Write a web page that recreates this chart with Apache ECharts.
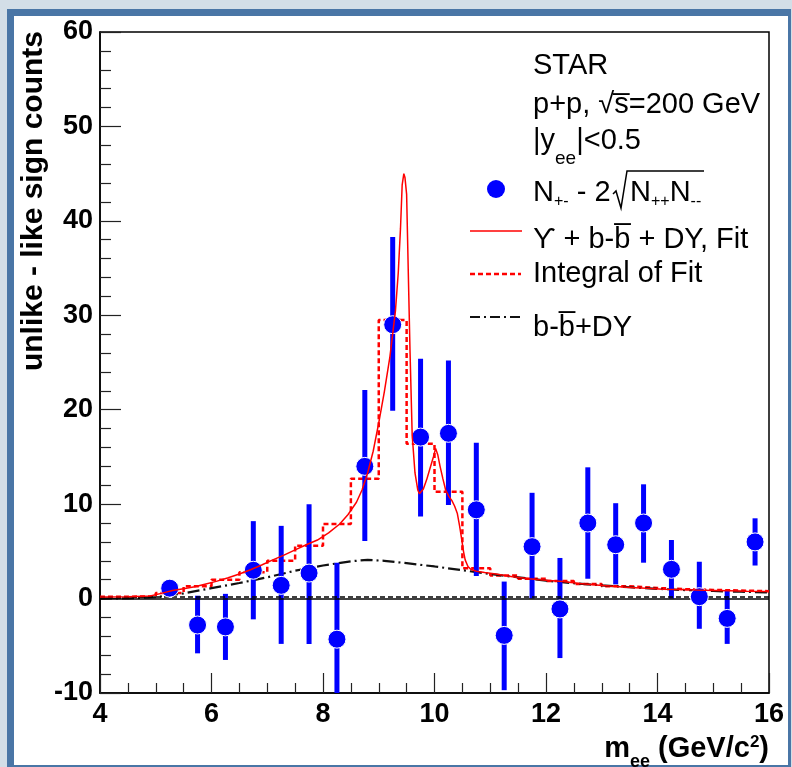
<!DOCTYPE html>
<html>
<head>
<meta charset="utf-8">
<script src="https://cdn.jsdelivr.net/npm/echarts@6/dist/echarts.min.js"></script>
<style>
  html, body { margin: 0; padding: 0; }
  #chart { width: 792px; height: 767px; }
</style>
</head>
<body>
<div id="chart"></div>
<script>
// data points: N+- - 2 sqrt(N++ N--)
const massBins = [5.25, 5.75, 6.25, 6.75, 7.25, 7.75, 8.25, 8.75, 9.25, 9.75, 10.25,
  10.75, 11.25, 11.75, 12.25, 12.75, 13.25, 13.75, 14.25, 14.75, 15.25, 15.75]
const counts = [1.1, -2.8, -3.0, 3.0, 1.4, 2.7, -4.3, 14.0, 29.0, 17.1, 17.5,
  9.4, -3.9, 5.5, -1.1, 8.0, 5.7, 8.0, 3.1, 0.2, -2.1, 6.0]
const errLow = [0.3, -5.8, -6.5, -2.2, -4.8, -4.8, -12.5, 6.1, 19.9, 8.7, 9.9,
  2.4, -9.7, 0.0, -6.3, 2.1, 1.5, 3.8, 0.0, -3.2, -4.8, 3.5]
const errHigh = [1.9, 0.3, 0.5, 8.2, 7.7, 10.0, 3.8, 22.1, 38.3, 25.4, 25.2,
  16.5, 1.8, 11.2, 4.3, 13.9, 10.1, 12.1, 6.2, 3.9, 0.8, 8.5]

// Upsilon + b-bbar + DY fit
const fitMass = [4.0, 4.5, 4.9, 5.1, 5.3, 5.5, 5.7, 5.9, 6.1, 6.3, 6.5, 6.7, 6.9, 7.1, 7.3,
  7.5, 7.7, 7.9, 8.1, 8.3, 8.45, 8.6, 8.7, 8.8, 8.9, 9.0, 9.1, 9.2, 9.3, 9.35, 9.39, 9.42,
  9.45, 9.47, 9.5, 9.53, 9.56, 9.6, 9.65, 9.7, 9.73, 9.8, 9.86, 9.92, 9.98, 10.02, 10.06,
  10.1, 10.15, 10.2, 10.26, 10.31, 10.36, 10.41, 10.45, 10.49, 10.52, 10.55, 10.6, 10.65,
  10.75, 10.9, 11.1, 11.4, 11.7, 12.0, 12.3, 12.6, 12.9, 13.2, 13.5, 13.8, 14.1, 14.4,
  14.7, 15.0, 15.3, 15.6, 16.0]
const fitValue = [0.17, 0.2, 0.27, 0.55, 0.85, 1.05, 1.25, 1.55, 1.85, 2.2, 2.6, 3.05, 3.55,
  4.1, 4.6, 5.15, 5.7, 6.2, 6.95, 7.9, 8.9, 10.2, 11.5, 13.3, 15.6, 18.6, 21.9, 25.6, 30.5,
  34.5, 39.2, 43.8, 45.0, 44.6, 42.8, 34.5, 26.4, 17.3, 13.3, 11.5, 11.1, 11.6, 12.6, 13.8,
  15.0, 15.9, 15.2, 14.0, 12.7, 11.5, 10.8, 10.4, 9.8, 9.0, 7.7, 6.2, 5.0, 4.1, 3.4, 3.1,
  2.9, 2.75, 2.6, 2.3, 2.1, 1.95, 1.8, 1.6, 1.45, 1.3, 1.18, 1.08, 1.0, 0.95, 0.9, 0.86,
  0.82, 0.78, 0.75]

// integral of fit, per 0.5 GeV bin (low edges)
const histEdges = [4.0, 4.5, 5.0, 5.5, 6.0, 6.5, 7.0, 7.5, 8.0, 8.5, 9.0, 9.5, 10.0, 10.5,
  11.0, 11.5, 12.0, 12.5, 13.0, 13.5, 14.0, 14.5, 15.0, 15.5, 16.0]
const histValue = [0.2, 0.22, 0.6, 1.3, 2.0, 2.8, 4.0, 5.6, 7.9, 12.7, 29.5, 16.4, 11.3,
  3.2, 2.45, 2.1, 1.85, 1.55, 1.3, 1.12, 1.0, 0.92, 0.85, 0.78, 0.78]

// b-bbar + DY component
const bkgMass = [4.0, 4.5, 5.0, 5.5, 6.0, 6.5, 7.0, 7.5, 8.0, 8.5, 8.8, 9.1, 9.5, 10.0,
  10.5, 11.0, 11.5, 12.0, 12.5, 13.0, 13.5, 14.0, 14.5, 15.0, 15.5, 16.0]
const bkgValue = [0.0, 0.03, 0.15, 0.55, 1.1, 1.65, 2.25, 2.95, 3.5, 3.95, 4.1, 4.0, 3.75,
  3.4, 3.0, 2.6, 2.25, 1.9, 1.62, 1.4, 1.2, 1.03, 0.9, 0.8, 0.72, 0.65]

const xTicks = [4, 16, 2]
const yTicks = [-10, 60, 10]

const zip = (a, b) => a.map((v, i) => [v, b[i]])

const myChart = echarts.init(document.getElementById('chart'))

const font = 'Liberation Sans, Arial, sans-serif'
const legendText = { fontFamily: font, fontSize: 29, fill: '#000' }
const subText = {
  verticalAlign: 'middle', fontFamily: font, fontSize: 29, lineHeight: 60, fill: '#000',
  rich: { s: { fontFamily: font, fontSize: 16, padding: [18, 0, 0, 0] } }
}

function renderErr(params, api) {
  const x = api.value(0)
  const lo = api.coord([x, api.value(1)])
  const hi = api.coord([x, api.value(2)])
  const rect = echarts.graphic.clipRectByRect(
    { x: lo[0] - 2.5, y: hi[1], width: 5, height: lo[1] - hi[1] },
    { x: params.coordSys.x, y: params.coordSys.y, width: params.coordSys.width, height: params.coordSys.height }
  )
  return rect && { type: 'rect', shape: rect, style: { fill: '#0000ff' } }
}

const option = {
  backgroundColor: '#d3dee7',
  animation: false,
  grid: {
    left: 100, right: 23, top: 32, bottom: 74,
    show: true, backgroundColor: '#fff', borderColor: '#000', borderWidth: 1.5
  },
  xAxis: {
    type: 'value', min: xTicks[0], max: xTicks[1], interval: xTicks[2],
    axisLine: { onZero: false, lineStyle: { color: '#000', width: 1.5 } },
    axisTick: { inside: true, length: 20, lineStyle: { color: '#222', width: 1.2 } },
    minorTick: { show: true, splitNumber: 4, length: 10, lineStyle: { color: '#222', width: 1.2 } },
    splitLine: { show: false },
    axisLabel: { margin: 8, color: '#000', fontSize: 27, fontWeight: 'bold', fontFamily: font }
  },
  yAxis: {
    type: 'value', min: yTicks[0], max: yTicks[1], interval: yTicks[2],
    axisLine: { onZero: false, lineStyle: { color: '#000', width: 1.5 } },
    axisTick: { inside: true, length: 21, lineStyle: { color: '#222', width: 1.2 } },
    minorTick: { show: true, splitNumber: 5, length: 11, lineStyle: { color: '#222', width: 1.2 } },
    splitLine: { show: false },
    axisLabel: { margin: 7, color: '#000', fontSize: 27, fontWeight: 'bold', fontFamily: font }
  },
  series: [
    {
      // integral of fit (step histogram)
      type: 'line', step: 'end', showSymbol: false, z: 3,
      data: zip(histEdges, histValue),
      lineStyle: { color: '#ff0000', width: 2.5, type: [5, 3] },
      markLine: {
        silent: true, symbol: 'none', label: { show: false },
        data: [
          { yAxis: 0, lineStyle: { color: '#000', width: 1.5, type: 'solid' } },
          { yAxis: 0.18, lineStyle: { color: '#000', width: 1.5, type: [5, 3] } }
        ]
      }
    },
    {
      type: 'line', showSymbol: false, z: 3,
      data: zip(bkgMass, bkgValue),
      lineStyle: { color: '#111', width: 2.2, type: [12, 4, 2, 4] }
    },
    {
      type: 'custom', z: 4,
      renderItem: renderErr,
      data: massBins.map((m, i) => [m, errLow[i], errHigh[i]])
    },
    {
      type: 'scatter', z: 5, symbolSize: 18,
      data: zip(massBins, counts),
      itemStyle: { color: '#0000ff', borderColor: '#fff', borderWidth: 1, opacity: 1 }
    },
    {
      type: 'line', showSymbol: false, z: 6,
      data: zip(fitMass, fitValue),
      lineStyle: { color: '#ff0000', width: 1.5 }
    }
  ],
  graphic: [
    // slide panel behind the plot
    { type: 'rect', z: -10, shape: { x: 7, y: 9, width: 784, height: 758 }, style: { fill: '#4a76a6' } },
    { type: 'rect', z: -9, shape: { x: 14, y: 16, width: 774, height: 749 }, style: { fill: '#fff' } },
    // axis titles
    {
      type: 'text', x: 34, y: 31, rotation: Math.PI / 2, z: 50,
      style: { text: 'unlike - like sign counts', font: 'bold 30px ' + font, fill: '#000', align: 'right', verticalAlign: 'middle' }
    },
    {
      type: 'text', x: 769, y: 749, z: 50,
      style: {
        text: '{b|m}{bs|ee}{b| (GeV/c}{bp|2}{b|)}', align: 'right', verticalAlign: 'middle',
        rich: {
          b: { fontFamily: font, fontSize: 29, fontWeight: 'bold', lineHeight: 60 },
          bs: { fontFamily: font, fontSize: 18, fontWeight: 'bold', padding: [26, 0, 0, 0] },
          bp: { fontFamily: font, fontSize: 17, fontWeight: 'bold', padding: [0, 0, 14, 0] }
        }
      }
    },
    // text block
    { type: 'text', x: 533, y: 66, z: 50, style: Object.assign({ text: 'STAR', verticalAlign: 'middle' }, legendText) },
    { type: 'text', x: 533, y: 105, z: 50, style: Object.assign({ text: 'p+p, √s\u0305=200 GeV', verticalAlign: 'middle' }, legendText) },
    {
      type: 'text', x: 533, y: 141, z: 50,
      style: {
        text: '|y{s|ee}|<0.5', verticalAlign: 'middle', fontFamily: font, fontSize: 29, lineHeight: 60, fill: '#000',
        rich: { s: { fontFamily: font, fontSize: 19, padding: [36, 0, 0, 0] } }
      }
    },
    { type: 'text', x: 533, y: 193, z: 50, style: Object.assign({ text: 'N{s|+-} - 2' }, subText) },
    { type: 'text', x: 630, y: 193, z: 50, style: Object.assign({ text: 'N{s|++}N{s|--}' }, subText) },
    {
      type: 'polyline', z: 50,
      shape: { points: [[613, 194], [616, 191], [621, 208], [627, 171], [704, 171]] },
      style: { stroke: '#000', lineWidth: 1.5, fill: null }
    },
    { type: 'text', x: 533, y: 240, z: 50, style: Object.assign({ text: 'ϒ + b-b\u0305 + DY, Fit', verticalAlign: 'middle' }, legendText) },
    { type: 'text', x: 533, y: 274, z: 50, style: Object.assign({ text: 'Integral of Fit', verticalAlign: 'middle' }, legendText) },
    { type: 'text', x: 533, y: 328, z: 50, style: Object.assign({ text: 'b-b\u0305+DY', verticalAlign: 'middle' }, legendText) },
    // legend keys
    { type: 'circle', z: 50, shape: { cx: 496, cy: 189, r: 9 }, style: { fill: '#0000ff' } },
    { type: 'line', z: 50, shape: { x1: 470, y1: 231, x2: 522, y2: 231 }, style: { stroke: '#ff0000', lineWidth: 1.5 } },
    { type: 'line', z: 50, shape: { x1: 470, y1: 274, x2: 521, y2: 274 }, style: { stroke: '#ff0000', lineWidth: 2.5, lineDash: [5, 3] } },
    { type: 'line', z: 50, shape: { x1: 470, y1: 317, x2: 521, y2: 317 }, style: { stroke: '#111', lineWidth: 2, lineDash: [10, 4, 2, 4] } }
  ]
}

myChart.setOption(option)
</script>
</body>
</html>
